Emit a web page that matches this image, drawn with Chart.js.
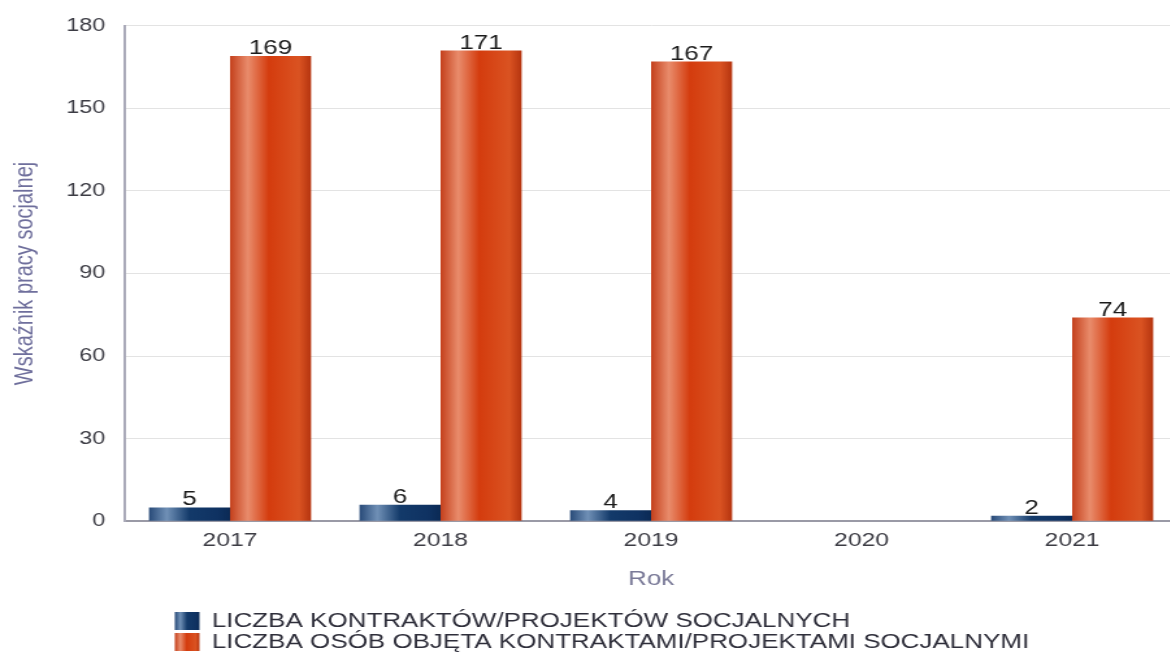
<!DOCTYPE html>
<html>
<head>
<meta charset="utf-8">
<script src="https://cdn.jsdelivr.net/npm/chart.js@4.4.1/dist/chart.umd.min.js"></script>
<style>
  html, body { margin: 0; padding: 0; background: #fff; overflow: hidden; }
  #wrap { width: 1170px; height: 652px; overflow: hidden; }
  canvas { display: block; }
</style>
</head>
<body>
<div id="wrap">
  <!-- the reference is stretched sideways, so the canvas is drawn narrow and widened by css -->
  <canvas id="chart" width="908" height="652" style="width:1180.4px;height:652px"></canvas>
</div>
<script>
// data
const years = ['2017', '2018', '2019', '2020', '2021'];
const contracts = [5, 6, 4, null, 2];
const people = [169, 171, 167, null, 74];
const seriesNames = [
  'LICZBA KONTRAKTÓW/PROJEKTÓW SOCJALNYCH',
  'LICZBA OSÓB OBJĘTA KONTRAKTAMI/PROJEKTAMI SOCJALNYMI'
];
const yMax = 180;
const yStep = 30;

const FONT = "'Liberation Sans', Arial, sans-serif";
const CAT_PCT = 0.77;

// shiny gradient stops (left -> right) for each series
const blueStops = [[0, '#284a78'], [0.22, '#7090b6'], [0.5, '#133a6a'], [0.85, '#0f3262'], [1, '#0b2a55']];
const redStops = [[0, '#c4401c'], [0.22, '#e98c6c'], [0.48, '#d43c0e'], [0.85, '#da5322'], [1, '#b5340f']];

function makeGrad(ctx2d, x0, w, stops) {
  const g = ctx2d.createLinearGradient(x0, 0, x0 + w, 0);
  stops.forEach(s => g.addColorStop(s[0], s[1]));
  return g;
}

function barFill(stops) {
  return function (context) {
    const chart = context.chart;
    const xs = chart.scales.x;
    if (!xs || !xs.width || context.dataIndex === undefined) return stops[2][1];
    const catW = xs.width / years.length;
    const half = catW * CAT_PCT / 2;
    const center = xs.getPixelForValue(context.dataIndex);
    const left = context.datasetIndex === 0 ? center - half : center;
    return makeGrad(chart.ctx, left, half, stops);
  };
}

// value labels over the bars
const valueLabels = {
  id: 'valueLabels',
  afterDatasetsDraw(chart) {
    const c = chart.ctx;
    c.save();
    c.font = '20px ' + FONT;
    c.fillStyle = '#1b1b1b';
    c.textAlign = 'center';
    c.textBaseline = 'alphabetic';
    chart.data.datasets.forEach((ds, i) => {
      chart.getDatasetMeta(i).data.forEach((bar, j) => {
        const v = ds.data[j];
        if (v === null || v === undefined) return;
        c.fillText(v, bar.x, bar.y - 2);
      });
    });
    c.restore();
  }
};

// legend stacked on two lines, left aligned under the plot
const stackedLegend = {
  id: 'stackedLegend',
  afterDraw(chart) {
    const c = chart.ctx;
    const allStops = [blueStops, redStops];
    c.save();
    c.font = '20px ' + FONT;
    c.textBaseline = 'middle';
    chart.data.datasets.forEach((ds, i) => {
      const yc = 621 + i * 21;
      c.fillStyle = makeGrad(c, 134.5, 19, allStops[i]);
      c.fillRect(134.5, yc - 9, 19, 18);
      c.fillStyle = '#2e2e3a';
      c.fillText(ds.label, 163, yc);
    });
    c.restore();
  }
};

new Chart(document.getElementById('chart'), {
  type: 'bar',
  data: {
    labels: years,
    datasets: [
      { label: seriesNames[0], data: contracts, backgroundColor: barFill(blueStops) },
      { label: seriesNames[1], data: people, backgroundColor: barFill(redStops) }
    ]
  },
  options: {
    responsive: false,
    animation: false,
    devicePixelRatio: 1,
    layout: { padding: { top: 23, right: 2, bottom: 61, left: 0 } },
    datasets: { bar: { categoryPercentage: CAT_PCT, barPercentage: 1 } },
    scales: {
      x: {
        grid: { display: false, drawTicks: false },
        border: { display: true, color: '#9a9aa6', width: 2 },
        ticks: { color: '#3c3c44', font: { family: FONT, size: 19 }, padding: 8 },
        title: {
          display: true, text: 'Rok', color: '#7a7a98',
          font: { family: FONT, size: 20 }, padding: { top: 7, bottom: 0 }
        }
      },
      y: {
        min: 0,
        max: yMax,
        afterFit(scale) { scale.width = 96; },
        grid: { color: '#e3e3e3', drawTicks: false },
        border: { display: true, color: '#a9a9b8', width: 2 },
        ticks: { stepSize: yStep, color: '#3c3c44', font: { family: FONT, size: 18 }, padding: 15 },
        title: {
          display: true, text: 'Wskaźnik pracy socjalnej', color: '#6f6f9c',
          font: { family: FONT, size: 20 }, padding: { top: 7, bottom: 0 }
        }
      }
    },
    plugins: {
      legend: { display: false },
      tooltip: { enabled: false }
    }
  },
  plugins: [valueLabels, stackedLegend]
});
</script>
</body>
</html>
